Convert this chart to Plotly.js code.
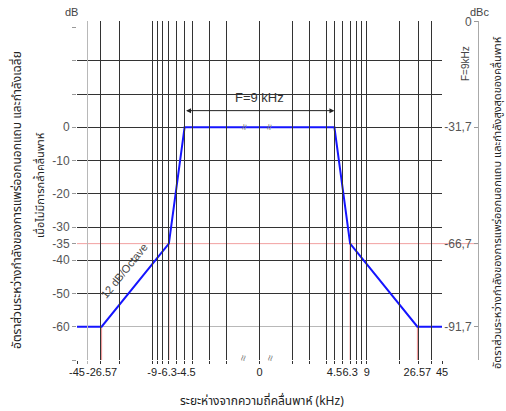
<!DOCTYPE html>
<html><head><meta charset="utf-8">
<script src="https://cdn.plot.ly/plotly-3.0.1.min.js"></script>
<style>body{margin:0;background:#fff}</style>
</head><body><div id="chart" style="width:506px;height:411px"></div>
<script>
// ---- data (frequency offset in kHz, level in dB) ----
const maskFreq  = [-45, -26.57, -6.3, -4.5, 4.5, 6.3, 26.57, 45];
const maskLevel = [-60, -60, -35, 0, 0, -35, -60, -60];
const guideIdx  = [1, 2, 5, 6];               // breakpoints marked by red guides
const xTickFreq = [-45, -26.57, -9, -6.3, -4.5, 0, 4.5, 6.3, 9, 26.57, 45];
const xTickText = ['-45', '-26.57', '-9', '-6.3\u00a0', '\u00a0-4.5', '0', '4.5', '6.3', '9', '26.57', '45'];
const gridFreqDark  = [-45, -27, -18, -9, -8.1, -7.2, -6.3, -5.4, -4.5, -4, -3, -2, 0, 2, 3, 4, 4.5, 5.4, 6.3, 7.2, 8.1, 9, 18, 27, 36, 45];
const gridFreqLight = [-36];
const yTickVals = [30, 20, 10, 0, -10, -20, -30, -35, -40, -50, -60, -70];
const yTickText = ['', '', '', '0', '-10', '-20', '-30', '-35', '-40', '-50', '-60', ''];
const yGridDark  = [30, 20, 10, 0, -10, -20, -30, -40, -50, -70];
const yGridLight = [-60];
const refLevel = -35;
const dbcOffset = 31.7;
const rightTickVals = [0, -31.7, -66.7, -91.7];
const rightTickText = ['0', '-31,7', '-66,7', '-91,7'];
const bandwidthKHz = 9;

// ---- axis scale: linear inside ±4.5 kHz, logarithmic outside ----
const INNER = 74.5, DECADE = 107, EDGE = 4.5;
function pos(f) {
  const a = Math.abs(f);
  if (a <= EDGE) return f * INNER / EDGE;
  return Math.sign(f) * (INNER + DECADE * Math.log10(a / EDGE));
}
const XR = [-181.5, 181.5];

// layout geometry (pixels)
const W = 506, H = 411, ML = 77, MR = 26, MT = 21, MB = 51;
const PW = W - ML - MR, PH = H - MT - MB;
const px = x => (x - ML) / PW;
const py = y => (H - MB - y) / PH;
const dbScale = 3.325;
const mainTop = (100 * dbScale) / PH;
const y2Range = [-70 - dbcOffset, -70 - dbcOffset + PH / dbScale];

const FONT = 'Liberation Sans, Arial, sans-serif';
const THAI = 'Noto Sans Thai, Noto Sans, DejaVu Sans, sans-serif';

const guideX = [], guideY = [];
guideIdx.forEach(i => { guideX.push(pos(maskFreq[i]), pos(maskFreq[i]), null); guideY.push(maskLevel[i], -70, null); });

const traces = [
  {x: [], y: [], xaxis: 'x2', yaxis: 'y', showlegend: false, hoverinfo: 'skip'},
  {x: [], y: [], xaxis: 'x', yaxis: 'y3', showlegend: false, hoverinfo: 'skip'},
  {x: [], y: [], xaxis: 'x', yaxis: 'y2', showlegend: false, hoverinfo: 'skip'},
  {x: guideX, y: guideY, mode: 'lines', line: {color: '#f09090', width: 1}, showlegend: false, hoverinfo: 'skip'},
  {x: maskFreq.map(pos), y: maskLevel, mode: 'lines', line: {color: '#1515ff', width: 2}, showlegend: false}
];

function note(text, x, y, opts) {
  return Object.assign({text: text, x: px(x), y: py(y), xref: 'paper', yref: 'paper', xanchor: 'center', yanchor: 'middle', showarrow: false}, opts);
}
const annotations = [
  note('dB', 71, 12, {font: {family: FONT, size: 11, color: '#444'}}),
  note('dBc', 479, 12, {font: {family: FONT, size: 11, color: '#444'}}),
  note('F=9kHz', 465, 64, {textangle: -90, font: {family: FONT, size: 10, color: '#444'}}),
  note('อัตราส่วนระหว่างกำลังของการแพร่ออกนอกแถบ และกำลังเฉลี่ย', 17, 200, {textangle: -90, font: {family: THAI, size: 12, color: '#222'}}),
  note('เมื่อไม่มีการกล้ำคลื่นพาห์', 40, 185, {textangle: -90, font: {family: THAI, size: 11, color: '#222'}}),
  note('อัตราส่วนระหว่างกำลังของการแพร่ออกนอกแถบ และกำลังสูงสุดของคลื่นพาห์', 497, 203, {textangle: -90, font: {family: THAI, size: 11, color: '#222'}}),
  note('ระยะห่างจากความถี่คลื่นพาห์ (kHz)', 262, 401, {font: {family: THAI, size: 12, color: '#222'}}),
  note('12 dB/Octave', 124, 271, {textangle: -51, font: {family: FONT, size: 11, color: '#444'}}),
  {text: 'F=' + bandwidthKHz + ' kHz', x: pos(0), y: 8.8, xref: 'x', yref: 'y', xanchor: 'center', yanchor: 'middle', showarrow: false, font: {family: FONT, size: 13, color: '#333'}},
  {text: '', x: pos(bandwidthKHz / 2), y: 5, ax: pos(-bandwidthKHz / 2), ay: 5, xref: 'x', yref: 'y', axref: 'x', ayref: 'y',
   showarrow: true, arrowside: 'end+start', arrowhead: 2, arrowsize: 1, arrowwidth: 1, arrowcolor: '#222', standoff: 0, startstandoff: 0}
];
[[244, 127], [269, 127], [243, 358], [270, 358]].forEach(p => annotations.push(
  note('≈', p[0], p[1], {textangle: -78, font: {family: FONT, size: 11, color: '#777'}})));

const layout = {
  width: W, height: H,
  margin: {l: ML, r: MR, t: MT, b: MB},
  paper_bgcolor: '#fff', plot_bgcolor: 'rgba(0,0,0,0)',
  showlegend: false,
  xaxis: {
    domain: [0, 365 / PW], range: XR, anchor: 'y',
    tickmode: 'array', tickvals: gridFreqDark.map(pos), showticklabels: false,
    showgrid: true, gridcolor: '#333', gridwidth: 1,
    ticks: 'outside', ticklen: 3, tickcolor: '#333', zeroline: false, showline: false,
    minor: {tickmode: 'array', tickvals: gridFreqLight.map(pos), showgrid: true, gridcolor: '#b8b8b8', ticks: 'outside', ticklen: 3, tickcolor: '#b8b8b8'}
  },
  xaxis2: {
    overlaying: 'x', anchor: 'y', side: 'bottom', range: XR,
    tickmode: 'array', tickvals: xTickFreq.map(pos), ticktext: xTickText, tickangle: 0,
    ticklabelstandoff: 4,
    showgrid: false, zeroline: false, ticks: '', showline: false,
    tickfont: {family: FONT, size: 11, color: '#222'}
  },
  yaxis: {
    domain: [0, mainTop], range: [-70, 30], anchor: 'x',
    tickmode: 'array', tickvals: yGridDark, showticklabels: false,
    showgrid: true, gridcolor: '#333', ticks: '', zeroline: false, showline: false,
    minor: {tickmode: 'array', tickvals: yGridLight, showgrid: true, gridcolor: '#b8b8b8', ticks: ''}
  },
  yaxis3: {
    overlaying: 'y', anchor: 'x', side: 'left', range: [-70, 30],
    tickmode: 'array', tickvals: yTickVals, ticktext: yTickText,
    ticks: 'outside', ticklen: 4, tickcolor: '#999', showgrid: false, zeroline: false, showline: false,
    tickfont: {family: FONT, size: 12, color: '#555'}
  },
  yaxis2: {
    anchor: 'free', position: px(478), side: 'left', domain: [0, 1], range: y2Range,
    tickmode: 'array', tickvals: rightTickVals, ticktext: rightTickText,
    ticks: 'outside', ticklen: 4, tickcolor: '#999', showline: true, linecolor: '#aaa', linewidth: 1,
    showgrid: false, zeroline: false,
    tickfont: {family: FONT, size: 12, color: '#555'}
  },
  shapes: [
    {type: 'line', xref: 'paper', yref: 'y', x0: 0, x1: px(478), y0: refLevel, y1: refLevel, line: {color: '#f2a0a0', width: 1}, layer: 'below'}
  ],
  annotations: annotations
};

Plotly.newPlot('chart', traces, layout, {displayModeBar: false, staticPlot: true});
</script></body></html>
